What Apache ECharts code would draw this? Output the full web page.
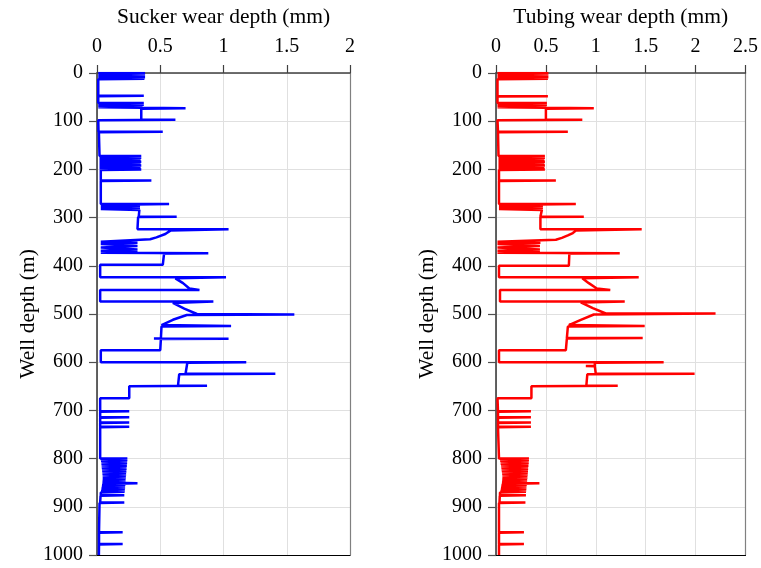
<!DOCTYPE html>
<html>
<head>
<meta charset="utf-8">
<title>Wear depth profiles</title>
<script src="https://cdn.jsdelivr.net/npm/echarts@6/dist/echarts.min.js"></script>
<style>
  html, body { margin: 0; padding: 0; background: #ffffff; }
  #chart { width: 761px; height: 568px; }
</style>
</head>
<body>
<div id="chart"></div>
<script>
// Wear profiles along the well, each vertex is [well depth (m), wear depth (mm)]
const suckerPath = [
  [0,0.01],[0,0.38],[1.5,0.01],[3,0.38],[4.5,0.01],[6,0.375],[7.5,0.01],[9,0.38],[10.5,0.01],[12,0.375],[13,0.01],
  [47,0.01],[47,0.37],[48,0.01],
  [62,0.01],[62,0.37],[64,0.01],[66,0.37],[68,0.01],[70,0.36],[71,0.01],
  [73,0.01],[73,0.70],[74,0.35],[97,0.35],[97,0.62],[98,0.01],
  [122,0.012],[122,0.52],[123,0.015],
  [172,0.02],[172,0.35],[174,0.02],[176,0.35],[178,0.02],[180,0.345],[182,0.02],[184,0.35],[186,0.02],
  [188,0.345],[190,0.02],[192,0.35],[194,0.02],[196,0.345],[198,0.02],[200,0.35],[201,0.03],
  [223,0.03],[223,0.43],[224,0.03],
  [272,0.03],[272,0.57],[274,0.03],[276,0.34],[278,0.03],[280,0.34],[282,0.03],[284,0.335],[286,0.33],
  [298,0.33],[298,0.63],[299,0.325],[324,0.32],[324,1.04],[327,0.58],[334,0.54],[341,0.47],[345,0.42],[350,0.03],
  [352,0.32],[355,0.03],[359,0.32],[362,0.03],[366,0.32],[369,0.03],[372,0.32],[373,0.03],
  [374,0.03],[374,0.88],[375,0.53],[398,0.52],[398,0.025],
  [424,0.025],[424,1.02],[426,0.62],[436,0.68],[447,0.73],[450,0.81],[450,0.025],
  [474,0.025],[474,0.92],[477,0.60],[489,0.69],[500,0.79],[501,1.56],[502,0.71],[512,0.60],[523,0.51],
  [525,1.06],[526,0.51],[551,0.505],[551,0.45],[551.5,1.04],[552,0.505],[575,0.50],[575,0.03],
  [600,0.03],[600,1.18],[601,0.714],[624,0.70],[624,1.41],[625,0.65],[649,0.64],[649,0.87],[650,0.255],
  [675,0.255],[675,0.025],
  [702,0.025],[702,0.255],[703,0.025],[714,0.025],[714,0.255],[715,0.025],
  [725,0.025],[725,0.255],[726,0.025],[734,0.025],[734,0.255],[735,0.025],
  [800,0.025],[800,0.24],[801.5,0.03],[803,0.24],[804.5,0.032],[806,0.238],[807.5,0.034],[809,0.238],[810.5,0.035],
  [812,0.236],[813.5,0.036],[815,0.236],[816.5,0.037],[818,0.234],[819.5,0.038],[821,0.234],[822.5,0.04],
  [824,0.232],[825.5,0.041],[827,0.232],[828.5,0.042],[830,0.23],[831.5,0.043],[833,0.23],[834.5,0.044],
  [836,0.228],[837.5,0.045],[839,0.228],[840.5,0.045],[842,0.226],[843.5,0.045],[845,0.226],[846.5,0.044],
  [848,0.225],[849.5,0.043],[851,0.32],[852.5,0.042],[854,0.224],[855.5,0.04],[857,0.222],[858.5,0.038],
  [860,0.222],[861.5,0.036],[863,0.22],[864.5,0.034],[866,0.22],[867.5,0.032],[869,0.218],[870.5,0.03],
  [876,0.03],[876,0.216],[877,0.028],[891,0.025],[891,0.216],[892,0.02],
  [953,0.016],[953,0.203],[954,0.016],[977,0.016],[977,0.203],[978,0.016],[1000,0.015]
];

const tubingPath = [
  [0,0.015],[0,0.525],[1.5,0.015],[3,0.525],[4.5,0.015],[6,0.52],[7.5,0.015],[9,0.525],[10.5,0.015],[12,0.52],[13,0.015],
  [48,0.015],[48,0.52],[49,0.015],
  [62,0.015],[62,0.51],[64,0.015],[66,0.51],[68,0.015],[70,0.505],[71,0.015],
  [73,0.015],[73,0.98],[74,0.50],[97,0.50],[97,0.865],[98,0.015],
  [122,0.02],[122,0.72],[123,0.02],
  [172,0.025],[172,0.49],[174,0.025],[176,0.49],[178,0.025],[180,0.485],[182,0.025],[184,0.49],[186,0.025],
  [188,0.485],[190,0.025],[192,0.49],[194,0.025],[196,0.485],[198,0.025],[200,0.49],[201,0.03],
  [223,0.03],[223,0.60],[224,0.03],
  [272,0.03],[272,0.80],[274,0.03],[276,0.47],[278,0.03],[280,0.47],[282,0.03],[284,0.46],[286,0.445],
  [298,0.445],[298,0.88],[299,0.445],[324,0.445],[324,1.46],[327,0.80],[332,0.77],[337,0.72],[342,0.66],[346,0.60],[350,0.015],
  [352,0.445],[355,0.015],[359,0.44],[362,0.015],[366,0.44],[369,0.015],[372,0.44],[373,0.015],
  [374,0.015],[374,1.24],[375,0.735],[400,0.73],[400,0.03],
  [424,0.03],[424,1.43],[426,0.865],[436,0.93],[447,1.01],[450,1.145],[450,0.04],
  [474,0.04],[474,1.29],[476,0.85],[488,0.97],[499,1.10],[499,2.20],[501,0.98],[512,0.85],[523,0.73],
  [525,1.49],[526,0.72],[550,0.71],[550,1.47],[551,0.71],[575,0.70],[575,0.03],
  [600,0.03],[600,1.68],[601,0.99],[608,0.99],[608,0.90],[608.5,0.99],[624,1.0],[624,1.99],[625,0.915],
  [649,0.905],[649,1.22],[650,0.355],[675,0.355],[675,0.015],
  [702,0.02],[702,0.35],[703,0.02],[714,0.02],[714,0.35],[715,0.02],
  [725,0.02],[725,0.35],[726,0.02],[734,0.02],[734,0.35],[735,0.02],
  [800,0.03],[800,0.33],[801.5,0.04],[803,0.33],[804.5,0.042],[806,0.328],[807.5,0.045],[809,0.328],[810.5,0.047],
  [812,0.325],[813.5,0.05],[815,0.325],[816.5,0.052],[818,0.322],[819.5,0.054],[821,0.322],[822.5,0.056],
  [824,0.32],[825.5,0.058],[827,0.32],[828.5,0.06],[830,0.318],[831.5,0.062],[833,0.318],[834.5,0.063],
  [836,0.315],[837.5,0.064],[839,0.315],[840.5,0.064],[842,0.312],[843.5,0.063],[845,0.312],[846.5,0.062],
  [848,0.31],[849.5,0.06],[851,0.435],[852.5,0.058],[854,0.308],[855.5,0.055],[857,0.306],[858.5,0.052],
  [860,0.305],[861.5,0.05],[863,0.304],[864.5,0.047],[866,0.302],[867.5,0.044],[869,0.30],[870.5,0.04],
  [876,0.04],[876,0.30],[877,0.038],[891,0.035],[891,0.295],[892,0.03],
  [953,0.03],[953,0.28],[954,0.03],[977,0.03],[977,0.28],[978,0.03],[1000,0.03]
];

const depthTicks = { min: 0, max: 1000, interval: 100 };
const suckerTicks = { min: 0, max: 2, interval: 0.5 };
const tubingTicks = { min: 0, max: 2.5, interval: 0.5 };

const FONT = 'Liberation Serif';
const labelStyle = { fontFamily: FONT, fontSize: 20, color: '#000' };
const nameStyle = { fontFamily: FONT, fontSize: 21.5, color: '#000' };

function plainNumber(v) { return String(v); }

function topAxis(gridIndex, ticks, name) {
  return {
    type: 'value', gridIndex: gridIndex, position: 'top',
    min: ticks.min, max: ticks.max, interval: ticks.interval,
    name: name, nameLocation: 'middle', nameGap: 45,
    nameTextStyle: nameStyle,
    axisLine: { show: true, onZero: false, lineStyle: { color: '#404040', width: 1.5 } },
    axisTick: { show: true, inside: false, length: 8, lineStyle: { color: '#404040', width: 1.2 } },
    axisLabel: Object.assign({ margin: 16, formatter: plainNumber }, labelStyle),
    splitLine: { show: true, lineStyle: { color: '#e0e0e0', width: 1 } }
  };
}
function bottomAxis(gridIndex, ticks) {
  return {
    type: 'value', gridIndex: gridIndex, position: 'bottom',
    min: ticks.min, max: ticks.max, interval: ticks.interval,
    axisLine: { show: true, onZero: false, lineStyle: { color: '#000', width: 1.2 } },
    axisTick: { show: false }, axisLabel: { show: false }, splitLine: { show: false }
  };
}
function leftAxis(gridIndex) {
  return {
    type: 'value', gridIndex: gridIndex, position: 'left', inverse: true,
    min: depthTicks.min, max: depthTicks.max, interval: depthTicks.interval,
    name: 'Well depth (m)', nameLocation: 'middle', nameGap: 54, nameRotate: 90,
    nameTextStyle: nameStyle,
    axisLine: { show: true, onZero: false, lineStyle: { color: '#303030', width: 1.5 } },
    axisTick: { show: true, inside: false, length: 8, lineStyle: { color: '#505050', width: 1.2 } },
    axisLabel: Object.assign({ margin: 14, formatter: plainNumber }, labelStyle),
    splitLine: { show: true, lineStyle: { color: '#e0e0e0', width: 1 } }
  };
}
function rightAxis(gridIndex) {
  return {
    type: 'value', gridIndex: gridIndex, position: 'right', inverse: true,
    min: depthTicks.min, max: depthTicks.max, interval: depthTicks.interval,
    axisLine: { show: true, onZero: false, lineStyle: { color: '#808080', width: 1.2 } },
    axisTick: { show: false }, axisLabel: { show: false }, splitLine: { show: false }
  };
}

function toXY(path) {
  return path.map(function (p) { return [p[1], p[0]]; });
}

const chart = echarts.init(document.getElementById('chart'), null, { renderer: 'canvas' });
chart.setOption({
  animation: false,
  backgroundColor: '#ffffff',
  grid: [
    { left: 97, right: 411, top: 73, bottom: 13, containLabel: false },
    { left: 496, right: 12, top: 73, bottom: 13, containLabel: false }
  ],
  xAxis: [
    topAxis(0, suckerTicks, 'Sucker wear depth (mm)'),
    bottomAxis(0, suckerTicks),
    topAxis(1, tubingTicks, 'Tubing wear depth (mm)'),
    bottomAxis(1, tubingTicks)
  ],
  yAxis: [leftAxis(0), rightAxis(0), leftAxis(1), rightAxis(1)],
  series: [
    {
      name: 'Sucker', type: 'line', xAxisIndex: 0, yAxisIndex: 0,
      data: toXY(suckerPath), showSymbol: false, symbol: 'none',
      lineStyle: { color: '#0000ff', width: 2.5 }, z: 5
    },
    {
      name: 'Tubing', type: 'line', xAxisIndex: 2, yAxisIndex: 2,
      data: toXY(tubingPath), showSymbol: false, symbol: 'none',
      lineStyle: { color: '#ff0000', width: 2.5 }, z: 5
    }
  ]
});
</script>
</body>
</html>
